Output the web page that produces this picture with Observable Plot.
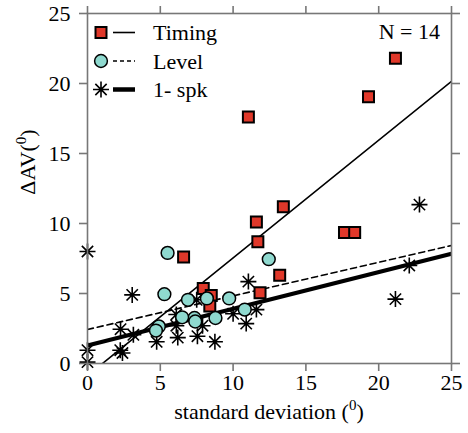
<!DOCTYPE html>
<html><head><meta charset="utf-8">
<script src="https://cdn.jsdelivr.net/npm/d3@7"></script>
<script src="https://cdn.jsdelivr.net/npm/@observablehq/plot@0.6"></script>
<style>body{margin:0;background:#fff} svg{display:block}</style>
</head><body><div id="chart"></div>
<script>
// ---- data ----
const xTicks = [0, 5, 10, 15, 20, 25];
const yTicks = [0, 5, 10, 15, 20, 25];

const timingSD = [11.05, 21.15, 19.3, 11.6, 13.45, 11.7, 17.65, 18.35, 13.2, 6.6, 11.85, 7.95, 8.5, 8.4];
const timingAV = [17.6, 21.8, 19.05, 10.1, 11.2, 8.7, 9.35, 9.35, 6.3, 7.6, 5.05, 5.35, 4.85, 4.1];

const levelSD = [5.5, 12.45, 5.28, 6.9, 8.2, 9.73, 10.8, 8.79, 7.35, 7.4, 6.5, 4.9, 4.7];
const levelAV = [7.9, 7.45, 4.95, 4.55, 4.65, 4.65, 3.85, 3.25, 3.25, 3.0, 3.3, 2.65, 2.35];

const spkSD = [0, 0, 0, 2.25, 2.4, 2.27, 3.15, 3.07, 4.75, 6.1, 6.1, 6.2, 7.5, 7.55, 7.9, 8.75, 10.0, 10.9, 11.05, 11.6, 21.15, 22.1, 22.8];
const spkAV = [8.0, 0.95, 0.1, 0.95, 0.75, 2.45, 2.05, 4.9, 1.55, 3.5, 2.7, 1.85, 4.55, 1.95, 2.7, 1.55, 3.55, 2.85, 5.85, 3.85, 4.6, 7.0, 11.35];

const fitNames = ["Timing", "Level", "1- spk"];
const fitSlope = [0.841, 0.24, 0.262];
const fitIntercept = [-0.866, 2.43, 1.29];
const nLabel = "N = 14";

// ---- styles ----
const RED = "#e0382a", TEAL = "#8fd9cf", GRAY = "#777";
const FONT = "'Liberation Serif', 'Times New Roman', serif";

const star8 = {
  draw(ctx, size) {
    const r = Math.sqrt(size / Math.PI);
    const d = r * Math.SQRT1_2;
    ctx.moveTo(-r, 0); ctx.lineTo(r, 0);
    ctx.moveTo(0, -r); ctx.lineTo(0, r);
    ctx.moveTo(-d, -d); ctx.lineTo(d, d);
    ctx.moveTo(-d, d); ctx.lineTo(d, -d);
  }
};

const toRows = (xs, ys) => xs.map((x, i) => ({x, y: ys[i]}));
const timing = toRows(timingSD, timingAV);
const level = toRows(levelSD, levelAV);
const spk = toRows(spkSD, spkAV);

const fitLine = i => [0, 25].map(x => ({x, y: fitIntercept[i] + fitSlope[i] * x}));

const chart = Plot.plot({
  width: 468, height: 433,
  marginTop: 13, marginRight: 17, marginBottom: 70, marginLeft: 87,
  style: {fontFamily: FONT, fontSize: "22px", color: "#000", background: "#fff"},
  x: {domain: [0, 25], label: null},
  y: {domain: [0, 25], label: null},
  marks: [
    Plot.line(fitLine(0), {x: "x", y: "y", stroke: "#000", strokeWidth: 1.6, clip: true}),
    Plot.line(fitLine(1), {x: "x", y: "y", stroke: "#000", strokeWidth: 1.6, strokeDasharray: "6,4", clip: true}),
    Plot.line(fitLine(2), {x: "x", y: "y", stroke: "#000", strokeWidth: 4, clip: true}),
    Plot.dot(spk, {x: "x", y: "y", symbol: star8, r: 8, stroke: "#000", strokeWidth: 1.6, fill: "none"}),
    Plot.dot(timing, {x: "x", y: "y", symbol: "square", r: 6.2, fill: RED, stroke: "#000", strokeWidth: 2}),
    Plot.dot(level, {x: "x", y: "y", symbol: "circle", r: 6.4, fill: TEAL, stroke: "#000", strokeWidth: 1.5}),
    Plot.frame({stroke: GRAY, strokeWidth: 1.6}),
    Plot.axisX({anchor: "bottom", ticks: xTicks, tickSize: 8, tickPadding: 3, stroke: GRAY, strokeWidth: 1.6, fill: "#000", fontSize: 22, label: null}),
    Plot.axisX({anchor: "top", ticks: xTicks, tickSize: 8, stroke: GRAY, strokeWidth: 1.6, tickFormat: () => "", label: null}),
    Plot.axisY({anchor: "left", ticks: yTicks, tickSize: 8, tickPadding: 9, stroke: GRAY, strokeWidth: 1.6, fill: "#000", fontSize: 22, label: null}),
    Plot.axisY({anchor: "right", ticks: yTicks, tickSize: 8, stroke: GRAY, strokeWidth: 1.6, tickFormat: () => "", label: null})
  ]
});
document.getElementById("chart").appendChild(chart);

const svg = d3.select(chart);
const g = svg.append("g").attr("font-family", FONT).attr("fill", "#000").attr("text-anchor", "start");

// axis titles with superscript 0
const xl = g.append("text").attr("x", 269).attr("y", 419).attr("text-anchor", "middle").attr("font-size", 22);
xl.append("tspan").text("standard deviation (");
xl.append("tspan").attr("font-size", 15).attr("dy", -9).text("0");
xl.append("tspan").attr("dy", 9).text(")");

const yl = g.append("text").attr("transform", "translate(35,162) rotate(-90)").attr("text-anchor", "middle").attr("font-size", 22);
yl.append("tspan").text("\u0394AV(");
yl.append("tspan").attr("font-size", 15).attr("dy", -9).text("0");
yl.append("tspan").attr("dy", 9).text(")");

g.append("text").attr("x", 440).attr("y", 39).attr("text-anchor", "end").attr("font-size", 22).text(nLabel);

// legend
const rows = [
  {sym: d3.symbolSquare, size: Math.PI * 6.2 * 6.2, fill: RED, sw: 2, dash: null, lw: 1.6},
  {sym: d3.symbolCircle, size: Math.PI * 6.4 * 6.4, fill: TEAL, sw: 1.5, dash: "4,3", lw: 1.6},
  {sym: star8, size: Math.PI * 8 * 8, fill: "none", sw: 1.6, dash: null, lw: 4.5}
];
rows.forEach((r, i) => {
  const cy = 32.5 + i * 28.5;
  g.append("path").attr("d", d3.symbol(r.sym, r.size)()).attr("transform", `translate(101,${cy})`)
    .attr("fill", r.fill).attr("stroke", "#000").attr("stroke-width", r.sw);
  g.append("line").attr("x1", 113).attr("x2", 135).attr("y1", cy).attr("y2", cy)
    .attr("stroke", "#000").attr("stroke-width", r.lw).attr("stroke-dasharray", r.dash);
  g.append("text").attr("x", 153).attr("y", cy + 7.5).attr("text-anchor", "start").attr("font-size", 22).text(fitNames[i]);
});
</script>
</body></html>
